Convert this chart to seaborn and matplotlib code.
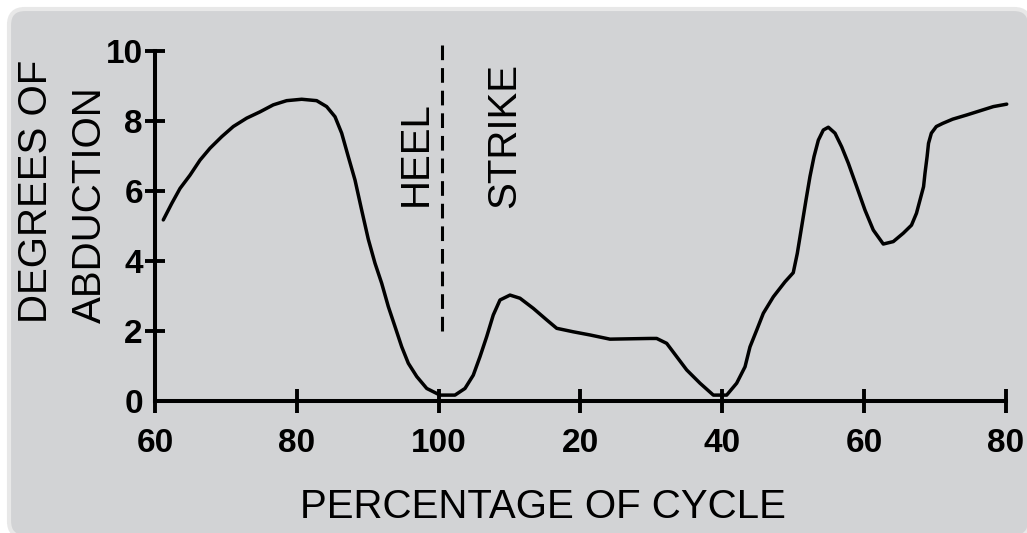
import numpy as np
import pandas as pd
import matplotlib
matplotlib.use("Agg")
import matplotlib.pyplot as plt
from matplotlib.patches import FancyBboxPatch
import seaborn as sns

# ---- data ----
# x is a continuous "position in the gait cycle" (60..180); labels wrap after 100
cycle_pos = [61.17, 62.36, 63.53, 64.94, 66.35, 67.76, 69.41, 71.04, 72.93, 74.81,
             76.68, 78.57, 80.69, 82.80, 84.21, 85.39, 86.33, 87.26, 88.21, 89.15,
             90.08, 91.03, 91.97, 92.91, 93.85, 94.80, 95.73, 96.92, 98.33, 100.20,
             102.31, 103.72, 104.89, 105.84, 106.78, 107.71, 108.66, 110.07, 111.48,
             113.36, 115.25, 116.66, 119.00, 121.35, 124.17, 129.82, 130.76, 132.17,
             133.58, 134.99, 136.87, 138.75, 140.63, 142.04, 143.22, 143.92, 144.87,
             145.80, 147.21, 148.86, 150.02, 150.59, 151.21, 151.82, 152.38, 152.95,
             153.56, 154.26, 154.97, 155.91, 156.85, 157.79, 158.97, 160.14, 161.31,
             162.72, 164.13, 165.54, 166.70, 167.40, 167.90, 168.40, 168.60, 168.90,
             169.10, 169.50, 170.20, 171.10, 172.50, 174.48, 176.36, 178.24, 180.13]
abduction = [5.17, 5.64, 6.07, 6.45, 6.88, 7.22, 7.55, 7.84, 8.08, 8.26,
             8.46, 8.58, 8.62, 8.58, 8.41, 8.12, 7.65, 6.98, 6.31, 5.45,
             4.62, 3.93, 3.36, 2.69, 2.12, 1.54, 1.07, 0.69, 0.35, 0.16,
             0.16, 0.35, 0.73, 1.26, 1.83, 2.45, 2.88, 3.02, 2.93,
             2.64, 2.31, 2.07, 1.97, 1.88, 1.76, 1.78, 1.78, 1.64,
             1.26, 0.88, 0.50, 0.16, 0.16, 0.50, 0.97, 1.54, 2.02,
             2.50, 2.97, 3.40, 3.66, 4.21, 4.98, 5.74, 6.41, 6.98,
             7.45, 7.74, 7.82, 7.65, 7.26, 6.79, 6.12, 5.45, 4.88,
             4.48, 4.55, 4.79, 5.02, 5.36, 5.74, 6.12, 6.50, 6.98,
             7.36, 7.65, 7.84, 7.93, 8.05, 8.17, 8.29, 8.41, 8.48]
x_tick_pos = [60, 80, 100, 120, 140, 160, 180]
x_tick_labels = ["60", "80", "100", "20", "40", "60", "80"]
y_ticks = [0, 2, 4, 6, 8, 10]
heel_strike_x = 100.5
heel_strike_y = [1.98, 10.29]

df = pd.DataFrame({"cycle": cycle_pos, "abduction": abduction})

sns.set_theme(style="white")
plt.rcParams["font.family"] = ["Liberation Sans", "DejaVu Sans"]

W, H, DPI = 1027, 533, 100
fig = plt.figure(figsize=(W / DPI, H / DPI), dpi=DPI, facecolor="white")

# rounded grey panel behind everything
panel = FancyBboxPatch((9 / DPI, -4 / DPI), (1030 - 9) / DPI, (524 + 4) / DPI,
                       boxstyle="round,pad=0,rounding_size=0.16",
                       transform=fig.dpi_scale_trans, facecolor="#d2d3d5",
                       edgecolor="#e8e8e8", linewidth=3.0, zorder=-10)
fig.patches.append(panel)

# axes placement (pixels)
x0_px, px_per_x = 155.0, 7.09
y0_px, px_per_y = 400.7, 34.97
xlim = (60, 182)
ylim = (0, 10.5)
ax_w = (xlim[1] - xlim[0]) * px_per_x
ax_h = (ylim[1] - ylim[0]) * px_per_y
ax = fig.add_axes([x0_px / W, (H - y0_px) / H, ax_w / W, ax_h / H])
ax.set_zorder(5)
ax.set_facecolor("none")

sns.lineplot(data=df, x="cycle", y="abduction", ax=ax, color="black",
             linewidth=2.5, estimator=None, sort=False, clip_on=False,
             solid_joinstyle="round", solid_capstyle="round")

ax.plot([heel_strike_x, heel_strike_x], heel_strike_y, color="black",
        linewidth=2.2, linestyle=(0, (4.8, 2.6)), clip_on=False)

ax.set_xlim(*xlim)
ax.set_ylim(*ylim)

for s in ["top", "right"]:
    ax.spines[s].set_visible(False)
for s in ["left", "bottom"]:
    ax.spines[s].set_color("black")
    ax.spines[s].set_linewidth(2.9)
ax.spines["bottom"].set_bounds(60, 180)
ax.spines["left"].set_bounds(0, 10)

ax.set_xticks(x_tick_pos)
ax.set_xticklabels(x_tick_labels)
ax.set_yticks(y_ticks)
ax.set_yticklabels([str(v) for v in y_ticks])
ax.tick_params(axis="x", bottom=True, direction="inout", length=17.3, width=2.8,
               color="black", pad=11, labelsize=24, labelcolor="black")
ax.tick_params(axis="y", left=True, direction="inout", length=14.4, width=2.8,
               color="black", pad=1.5, labelsize=24, labelcolor="black")
ax.yaxis.get_major_ticks()[0].tick1line.set_visible(False)
for lab in ax.get_xticklabels() + ax.get_yticklabels():
    lab.set_fontweight("bold")

ax.set_xlabel("PERCENTAGE OF CYCLE", fontsize=29, color="black")
ax.xaxis.set_label_coords((543.3 - x0_px) / ax_w, (y0_px - 488.0) / ax_h)
ax.set_ylabel("DEGREES OF\nABDUCTION", fontsize=29, color="black",
              multialignment="left", linespacing=1.53)
ax.yaxis.set_label_coords((108.8 - x0_px) / ax_w, (y0_px - 191.7) / ax_h)

ax.text(96.81, 7.08, "HEEL", rotation=90, ha="center", va="center",
        fontsize=29, color="black")
ax.text(109.3, 7.59, "STRIKE", rotation=90, ha="center", va="center",
        fontsize=29, color="black")

fig.savefig("out.png", dpi=DPI, facecolor="white")
